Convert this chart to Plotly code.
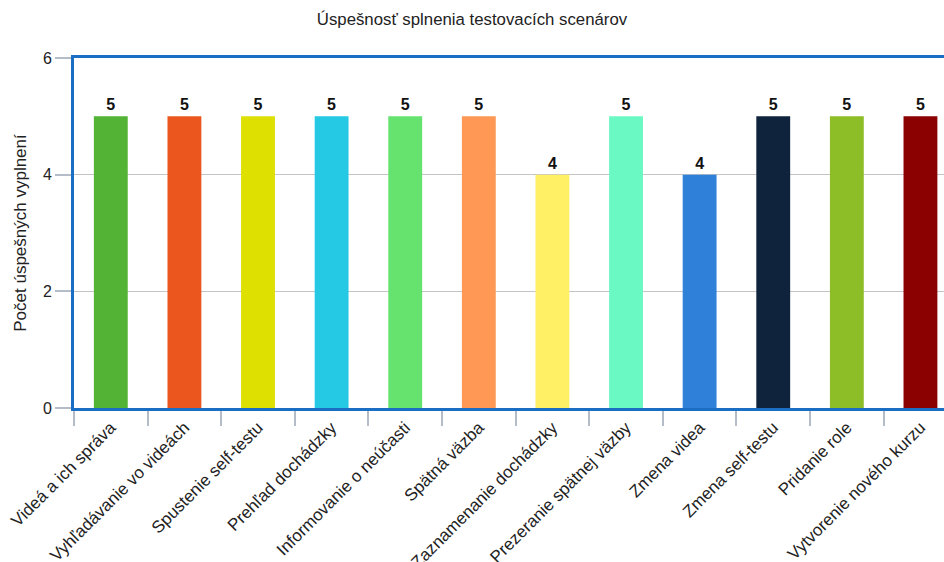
import plotly.graph_objects as go

categories = ["Videá a ich správa", "Vyhľadávanie vo videách", "Spustenie self-testu",
              "Prehľad dochádzky", "Informovanie o neúčasti", "Spätná väzba",
              "Zaznamenanie dochádzky", "Prezeranie spätnej väzby", "Zmena videa",
              "Zmena self-testu", "Pridanie role", "Vytvorenie nového kurzu"]
values = [5, 5, 5, 5, 5, 5, 4, 5, 4, 5, 5, 5]
colors = ["#52b334", "#eb561e", "#dde000", "#26c9e3", "#66e36f", "#ff9755",
          "#fff065", "#6bf9c3", "#2f80d9", "#10233d", "#8dbd27", "#8b0000"]

FONT = "Liberation Sans, Arial, sans-serif"
BLUE = "#1a6fc4"

fig = go.Figure(go.Bar(
    x=categories, y=values, marker=dict(color=colors, line=dict(width=0)),
    width=0.46, text=[str(v) for v in values], textposition="outside",
    textfont=dict(family=FONT, size=16, color="#111111", weight="bold"),
    cliponaxis=False,
))

fig.update_layout(
    width=944, height=562,
    margin=dict(l=74, r=0, t=58, b=154, autoexpand=False),
    paper_bgcolor="white", plot_bgcolor="white",
    font=dict(family=FONT, size=16, color="#222222"),
    title=dict(text="Úspešnosť splnenia testovacích scenárov", x=0.5, xanchor="center",
               y=1 - 19 / 562, yanchor="middle", font=dict(size=16.8, color="#222222")),
    showlegend=False,
    bargap=0.54,
)
fig.update_xaxes(
    type="category", range=[-0.5, 11.32], tickangle=-45, automargin=False,
    tickson="boundaries", ticks="outside", ticklen=15, tickwidth=2, tickcolor="#b4bcc8",
    showline=True, linecolor=BLUE, linewidth=3, mirror=True,
    showgrid=False, tickfont=dict(size=17, color="#222222"),
)
fig.update_yaxes(
    range=[0, 6], dtick=2, ticks="outside", ticklen=16, tickwidth=2, tickcolor="#b4bcc8",
    showline=True, linecolor=BLUE, linewidth=3, mirror=False, automargin=False,
    showgrid=True, gridcolor="#c4c4c4", gridwidth=1, zeroline=False,
    tickfont=dict(size=16, color="#222222"),
    title=dict(text="Počet úspešných vyplnení", font=dict(size=17, color="#222222"), standoff=12),
)

fig.write_html("out.html")
